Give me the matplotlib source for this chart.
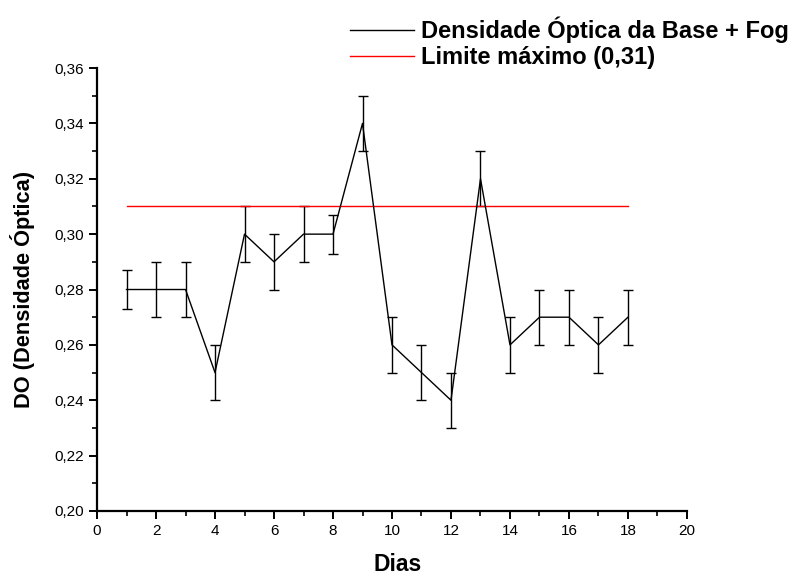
import matplotlib
matplotlib.use("Agg")
import matplotlib.pyplot as plt
from matplotlib.lines import Line2D
from matplotlib.ticker import MultipleLocator, FuncFormatter

# Daily optical density of base + fog with standard deviation
dias = [1, 2, 3, 4, 5, 6, 7, 8, 9, 10, 11, 12, 13, 14, 15, 16, 17, 18]
densidade = [0.28, 0.28, 0.28, 0.25, 0.30, 0.29, 0.30, 0.30, 0.34,
             0.26, 0.25, 0.24, 0.32, 0.26, 0.27, 0.27, 0.26, 0.27]
erro = [0.007, 0.01, 0.01, 0.01, 0.01, 0.01, 0.01, 0.007, 0.01,
        0.01, 0.01, 0.01, 0.01, 0.01, 0.01, 0.01, 0.01, 0.01]

# Maximum allowed limit
limite_x = [1, 18]
limite_y = [0.31, 0.31]

x_ticks = [0, 2, 4, 6, 8, 10, 12, 14, 16, 18, 20]
y_ticks = [0.20, 0.22, 0.24, 0.26, 0.28, 0.30, 0.32, 0.34, 0.36]

serie_nomes = ["Densidade Óptica da Base + Fog", "Limite máximo (0,31)"]

tick_font = ["Liberation Sans Narrow", "Liberation Sans", "DejaVu Sans"]
bold_font = ["Liberation Sans", "Arial", "DejaVu Sans"]

fig = plt.figure(figsize=(7.94, 5.77), dpi=100)
ax = fig.add_axes([0.1222, 0.1144, 0.743, 0.7677])

ax.errorbar(dias, densidade, yerr=erro, color="black", lw=1.0,
            elinewidth=1.0, capsize=3.5, capthick=1.0)
ax.plot(limite_x, limite_y, color="red", lw=1.0)

ax.set_xlim(0, 20)
ax.set_ylim(0.20, 0.36)
ax.set_xticks(x_ticks)
ax.set_yticks(y_ticks)
ax.xaxis.set_minor_locator(MultipleLocator(1))
ax.yaxis.set_minor_locator(MultipleLocator(0.01))
ax.xaxis.set_major_formatter(FuncFormatter(lambda v, p: f"{v:g}"))
ax.yaxis.set_major_formatter(FuncFormatter(lambda v, p: f"{v:.2f}".replace(".", ",")))

for side in ("top", "right"):
    ax.spines[side].set_visible(False)
for side in ("left", "bottom"):
    ax.spines[side].set_linewidth(1.6)

ax.tick_params(which="major", direction="out", length=6, width=1.4,
               labelsize=11)
ax.tick_params(which="minor", direction="out", length=3.5, width=1.2)
for lbl in ax.get_xticklabels() + ax.get_yticklabels():
    lbl.set_family(tick_font)

ax.set_xlabel("Dias", fontsize=16.5, fontweight="bold", family=bold_font)
ax.xaxis.set_label_coords(0.51, -0.095)
ax.set_ylabel("DO (Densidade Óptica)", fontsize=15.7, fontweight="bold",
              family=bold_font, labelpad=14)

handles = [Line2D([], [], color="black", lw=1.0),
           Line2D([], [], color="red", lw=1.0)]
ax.legend(handles, serie_nomes, loc="upper right", bbox_to_anchor=(1.009, 0.992),
          bbox_transform=fig.transFigure, frameon=False,
          handlelength=2.7, handletextpad=0.33, labelspacing=0.15,
          prop={"family": bold_font, "weight": "bold", "size": 17},
          borderaxespad=0.2, borderpad=0.3)

fig.savefig("out.png", dpi=100)
